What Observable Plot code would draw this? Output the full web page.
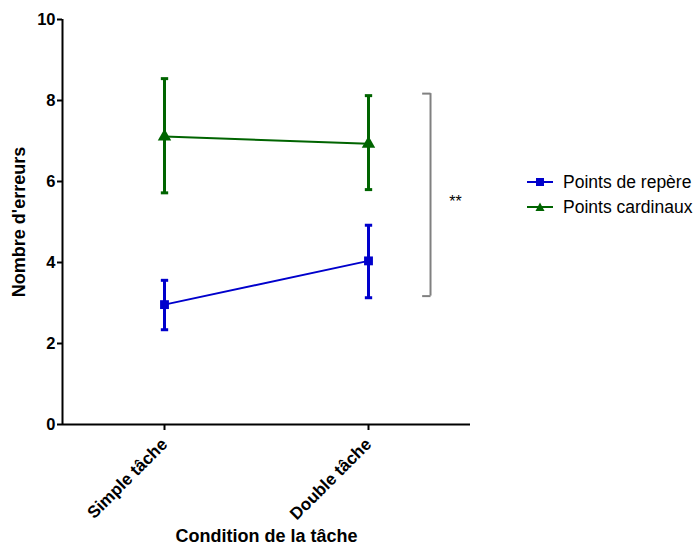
<!DOCTYPE html>
<html>
<head>
<meta charset="utf-8">
<script src="https://cdn.jsdelivr.net/npm/d3@7"></script>
<script src="https://cdn.jsdelivr.net/npm/@observablehq/plot@0.6"></script>
<style>
  body { margin: 0; background: #fff; }
  #wrap { position: relative; width: 700px; height: 551px; font-family: Arial, "Liberation Sans", sans-serif; }
  #legend { position: absolute; left: 527px; top: 169.5px; font-size: 17.5px; color: #000; white-space: nowrap; }
  .row { display: flex; align-items: center; height: 25px; }
  .row svg { margin-right: 10px; }
</style>
</head>
<body>
<div id="wrap"><div id="legend"></div></div>
<script>
const categories = ["Simple tâche", "Double tâche"];
const seriesNames = ["Points de repère", "Points cardinaux"];
const seriesColors = ["#0000cc", "#006400"];
const seriesSymbols = ["square", "triangle"];
const repereMean = [2.96, 4.04];
const repereLow = [2.34, 3.13];
const repereHigh = [3.56, 4.92];
const cardinauxMean = [7.11, 6.93];
const cardinauxLow = [5.72, 5.80];
const cardinauxHigh = [8.54, 8.12];
const yTicks = [0, 2, 4, 6, 8, 10];
const xTitle = "Condition de la tâche";
const yTitle = "Nombre d'erreurs";
const bracketLow = 3.17, bracketHigh = 8.17, bracketLabel = "**";

const data = [];
[[repereMean, repereLow, repereHigh], [cardinauxMean, cardinauxLow, cardinauxHigh]].forEach((s, si) => {
  categories.forEach((c, i) => data.push({series: seriesNames[si], x: i, mean: s[0][i], lo: s[1][i], hi: s[2][i]}));
});
const colorOf = d => seriesColors[seriesNames.indexOf(d.series)];
const capHalf = 0.018;
const bx = 1.304, bcap = 1.263;

const chart = Plot.plot({
  width: 700, height: 551,
  marginLeft: 62, marginRight: 230, marginTop: 19, marginBottom: 127,
  style: {fontFamily: 'Arial, "Liberation Sans", sans-serif', fontWeight: "bold", color: "#000"},
  x: {domain: [-0.5, 1.5]},
  y: {domain: [0, 10]},
  marks: [
    Plot.axisY({ticks: yTicks, tickSize: 5, tickPadding: 2, fontSize: 16.5, strokeWidth: 2, label: null}),
    Plot.axisX({ticks: [0, 1], tickFormat: i => categories[i], tickRotate: -45, tickSize: 6, tickPadding: 11, fontSize: 17, strokeWidth: 2, label: null}),
    Plot.text([yTitle], {frameAnchor: "left", textAnchor: "middle", rotate: -90, dx: -43, text: d => d, fontSize: 18}),
    Plot.text([xTitle], {frameAnchor: "bottom", dy: 117, text: d => d, fontSize: 18}),
    Plot.ruleX([-0.5], {strokeWidth: 2}),
    Plot.ruleY([0], {strokeWidth: 2}),
    Plot.line(data, {x: "x", y: "mean", z: "series", stroke: colorOf, strokeWidth: 2}),
    Plot.ruleX(data, {x: "x", y1: "lo", y2: "hi", stroke: colorOf, strokeWidth: 3}),
    Plot.link(data, {x1: d => d.x - capHalf, x2: d => d.x + capHalf, y1: "lo", y2: "lo", stroke: colorOf, strokeWidth: 3}),
    Plot.link(data, {x1: d => d.x - capHalf, x2: d => d.x + capHalf, y1: "hi", y2: "hi", stroke: colorOf, strokeWidth: 3}),
    Plot.dot(data, {x: "x", y: "mean", symbol: d => seriesSymbols[seriesNames.indexOf(d.series)], fill: colorOf, r: 5}),
    Plot.ruleX([bx], {y1: bracketLow, y2: bracketHigh, stroke: "#808080", strokeWidth: 2}),
    Plot.link([bracketLow, bracketHigh], {x1: bcap, x2: bx, y1: d => d, y2: d => d, stroke: "#808080", strokeWidth: 2}),
    Plot.text([bracketLabel], {x: 1.426, y: 5.5, text: d => d, fontSize: 16, fontWeight: "normal"})
  ]
});
document.getElementById("wrap").prepend(chart);

const legend = document.getElementById("legend");
seriesNames.forEach((name, i) => {
  const row = document.createElement("div");
  row.className = "row";
  const sym = seriesSymbols[i] === "square"
    ? `<rect x="9" y="4" width="8" height="8" fill="${seriesColors[i]}"/>`
    : `<path d="M13,3.5 L17.5,12 L8.5,12 Z" fill="${seriesColors[i]}"/>`;
  row.innerHTML = `<svg width="26" height="16"><line x1="0" x2="26" y1="8" y2="8" stroke="${seriesColors[i]}" stroke-width="2"/>${sym}</svg><span>${name}</span>`;
  legend.appendChild(row);
});
</script>
</body>
</html>
